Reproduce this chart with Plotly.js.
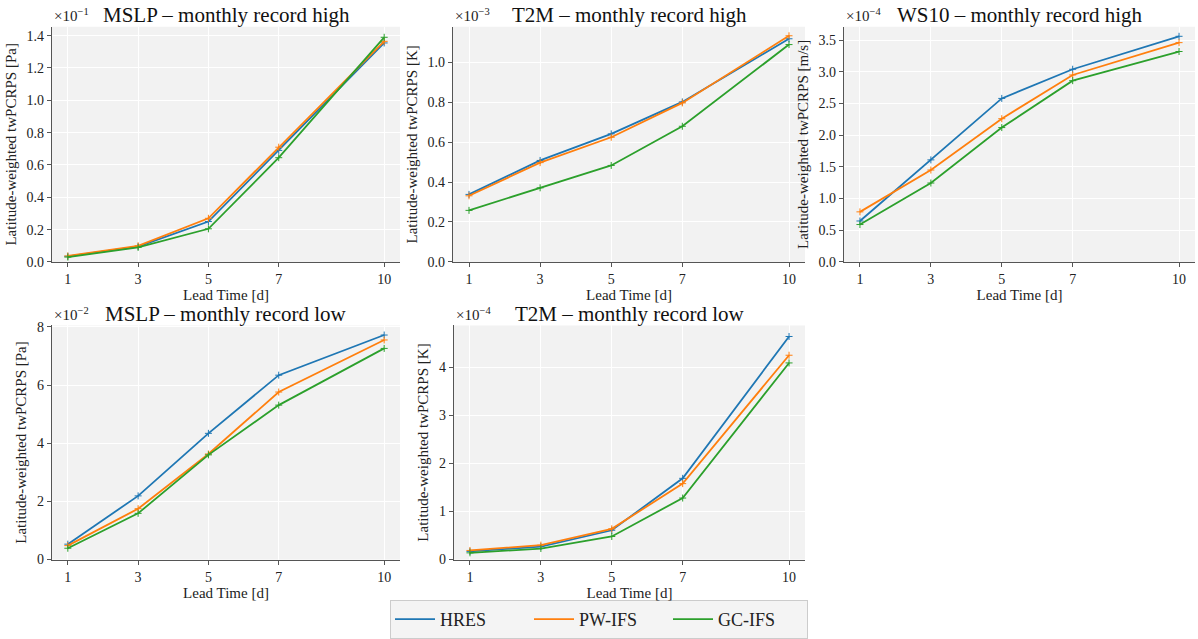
<!DOCTYPE html>
<html>
<head>
<meta charset="utf-8">
<script src="https://cdn.plot.ly/plotly-3.0.1.min.js"></script>
<style>html,body{margin:0;padding:0;background:#fff;}#chart{width:1198px;height:639px;}</style>
</head>
<body>
<div id="chart"></div>
<script>
// Lead times (days)
const leadTimes = [1, 3, 5, 7, 10];
const seriesNames = ["HRES", "PW-IFS", "GC-IFS"];

// Panel 1: MSLP – monthly record high (×10^-1 Pa)
const mslpHighHRES = [0.035, 0.095, 0.25, 0.69, 1.355];
const mslpHighPW   = [0.037, 0.100, 0.27, 0.71, 1.365];
const mslpHighGC   = [0.030, 0.090, 0.205, 0.645, 1.39];

// Panel 2: T2M – monthly record high (×10^-3 K)
const t2mHighHRES = [0.338, 0.508, 0.641, 0.801, 1.117];
const t2mHighPW   = [0.331, 0.497, 0.624, 0.796, 1.132];
const t2mHighGC   = [0.258, 0.371, 0.483, 0.679, 1.088];

// Panel 3: WS10 – monthly record high (×10^-4 m/s)
const ws10HighHRES = [0.646, 1.61, 2.58, 3.04, 3.56];
const ws10HighPW   = [0.79, 1.45, 2.26, 2.95, 3.46];
const ws10HighGC   = [0.59, 1.245, 2.12, 2.86, 3.32];

// Panel 4: MSLP – monthly record low (×10^-2 Pa)
const mslpLowHRES = [0.53, 2.19, 4.34, 6.34, 7.72];
const mslpLowPW   = [0.48, 1.75, 3.63, 5.76, 7.55];
const mslpLowGC   = [0.39, 1.59, 3.60, 5.31, 7.26];

// Panel 5: T2M – monthly record low (×10^-4 K)
const t2mLowHRES = [0.17, 0.27, 0.61, 1.69, 4.64];
const t2mLowPW   = [0.19, 0.30, 0.64, 1.58, 4.25];
const t2mLowGC   = [0.14, 0.23, 0.48, 1.28, 4.09];

const panelTitles = ["MSLP – monthly record high", "T2M – monthly record high", "WS10 – monthly record high",
                     "MSLP – monthly record low", "T2M – monthly record low"];
const panelUnits = ["[Pa]", "[K]", "[m/s]", "[Pa]", "[K]"];
const panelExponents = ["−1", "−3", "−4", "−2", "−4"];
const panelData = [
  [mslpHighHRES, mslpHighPW, mslpHighGC],
  [t2mHighHRES, t2mHighPW, t2mHighGC],
  [ws10HighHRES, ws10HighPW, ws10HighGC],
  [mslpLowHRES, mslpLowPW, mslpLowGC],
  [t2mLowHRES, t2mLowPW, t2mLowGC]
];

const colors = ["#1f77b4", "#ff7f0e", "#2ca02c"];
const W = 1198, H = 639;
const FONT = "Liberation Serif";

// panel geometry (pixels): [left, right, top, bottom]
const geom = [
  [52, 400, 27, 264],
  [453, 805, 27, 264],
  [844, 1195, 27, 264],
  [52, 400, 328, 564],
  [454, 805, 328, 564]
];
const yRanges = [[0, 1.455], [0, 1.177], [0, 3.71], [0, 8.05], [0, 4.87]];
const yDtick = [0.2, 0.2, 0.5, 2, 1];
const yFmt = [".1f", ".1f", ".1f", "d", "d"];

const traces = [];
const layout = {
  width: W, height: H,
  margin: {l: 0, r: 0, t: 0, b: 0},
  paper_bgcolor: "#ffffff",
  plot_bgcolor: "#f2f2f2",
  font: {family: FONT, size: 14, color: "#222"},
  showlegend: true,
  legend: {
    orientation: "h", x: 0.5, xanchor: "center", y: 1 - 605/H, yanchor: "top",
    font: {family: FONT, size: 18, color: "#222"},
    bgcolor: "#f4f4f4", bordercolor: "#cccccc", borderwidth: 1,
    entrywidth: 84, itemwidth: 40, tracegroupgap: 0
  },
  annotations: []
};

panelData.forEach((series, p) => {
  const idx = p === 0 ? "" : String(p + 1);
  const [l, r, t, b] = geom[p];
  series.forEach((vals, s) => {
    traces.push({
      x: leadTimes, y: vals,
      xaxis: "x" + idx, yaxis: "y" + idx,
      type: "scatter", mode: "lines+markers",
      name: seriesNames[s], legendgroup: seriesNames[s],
      showlegend: false,
      line: {color: colors[s], width: 1.8},
      marker: {symbol: "cross-thin", size: 5, line: {color: colors[s], width: 1}},
      hoverinfo: "x+y"
    });
  });
  const axStyle = {
    showline: true, linecolor: "#555", linewidth: 1.3,
    ticks: "outside", ticklen: 4, tickcolor: "#555", tickwidth: 1,
    gridcolor: "#ffffff", gridwidth: 1, zeroline: false,
    tickfont: {family: FONT, size: 14, color: "#222"}
  };
  layout["xaxis" + idx] = Object.assign({}, axStyle, {
    domain: [l / W, r / W], anchor: "y" + idx,
    range: [0.55, 10.45], tickvals: leadTimes,
    title: {text: "Lead Time [d]", font: {family: FONT, size: 15, color: "#222"}, standoff: 1}
  });
  layout["yaxis" + idx] = Object.assign({}, axStyle, {
    domain: [1 - b / H, 1 - t / H], anchor: "x" + idx,
    range: yRanges[p], dtick: yDtick[p], tick0: 0, tickformat: yFmt[p],
    title: {text: "Latitude-weighted twPCRPS " + panelUnits[p], font: {family: FONT, size: 15, color: "#222"}, standoff: 6}
  });
  layout.annotations.push({
    text: panelTitles[p], showarrow: false,
    xref: "paper", yref: "paper", x: ((l + r) / 2) / W, y: 1 - (t - 12) / H,
    xanchor: "center", yanchor: "middle",
    font: {family: FONT, size: 21, color: "#111"}
  });
  layout.annotations.push({
    text: "×10<sup>" + panelExponents[p] + "</sup>", showarrow: false,
    xref: "paper", yref: "paper", x: (l) / W, y: 1 - (t - 12) / H,
    xanchor: "left", yanchor: "middle",
    font: {family: FONT, size: 15, color: "#222"}
  });
});

// legend-only line entries (no markers in the legend)
seriesNames.forEach((name, s) => {
  traces.push({
    x: [null], y: [null], type: "scatter", mode: "lines",
    name: name, legendgroup: name, showlegend: true,
    line: {color: colors[s], width: 1.8}, hoverinfo: "skip"
  });
});

Plotly.newPlot("chart", traces, layout, {displayModeBar: false, staticPlot: true});
</script>
</body>
</html>
